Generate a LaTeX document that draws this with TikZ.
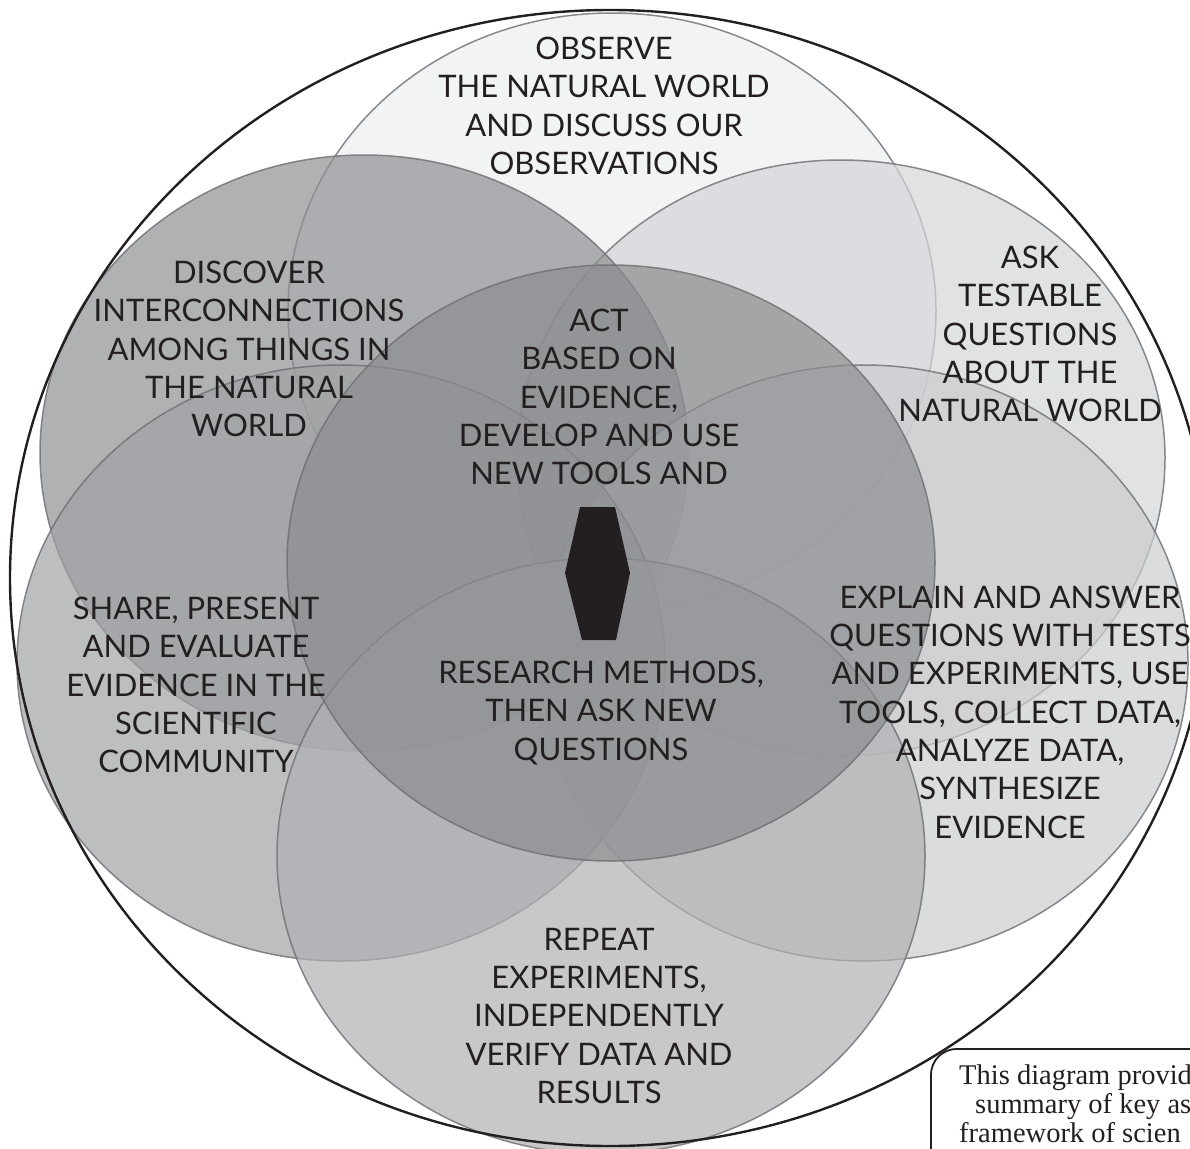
\documentclass[tikz,border=0pt]{standalone}
\usepackage{fontspec}
\setmainfont{Lato}
\newfontfamily\notefont{Liberation Serif}
\usetikzlibrary{shapes.geometric}

\definecolor{ink}{HTML}{231F20}
\definecolor{rim}{HTML}{6D6E71}
\definecolor{obsfill}{HTML}{EDEEF0}
\definecolor{askfill}{HTML}{D4D5D8}
\definecolor{expfill}{HTML}{CCCDD0}
\definecolor{repfill}{HTML}{B0B1B4}
\definecolor{shrfill}{HTML}{A1A2A5}
\definecolor{disfill}{HTML}{8F9093}
\definecolor{actfill}{HTML}{8C8D90}

\begin{document}
\begin{tikzpicture}[
    x=1pt, y=-1pt,
    petal/.style={ellipse, draw=rim, line width=1.5pt, minimum width=648pt,
                  minimum height=596pt, inner sep=0pt, fill opacity=0.7, draw opacity=0.8},
    lbl/.style={font=\fontsize{31}{38.3}\selectfont, align=center, text=ink},
    notetxt/.style={font=\notefont\fontsize{28.5}{31}\selectfont, text=ink, anchor=base west, inner sep=0pt}
]
    \useasboundingbox (0,0) rectangle (1190,1148);
    \clip (0,0) rectangle (1190,1148);

    % Petals
    \foreach \nm/\cx/\cy/\col in {obs/612/311/obsfill, ask/841/458/askfill,
                                 dis/364/453/disfill, exp/864/663/expfill,
                                 shr/341/663/shrfill, rep/601/856/repfill,
                                 act/611/563/actfill} {
        \node[petal, fill=\col] (\nm) at (\cx,\cy) {};
    }

    % Outer ring
    \node[ellipse, draw=ink, line width=2.4pt, minimum width=1200pt,
          minimum height=1136pt, inner sep=0pt] (ring) at (610,578) {};

    % Labels
    \node[lbl] (tobs) at (604,106) {OBSERVE\\THE NATURAL WORLD\\AND DISCUSS OUR\\OBSERVATIONS};
    \node[lbl] (tdis) at (249,349) {DISCOVER\\INTERCONNECTIONS\\AMONG THINGS IN\\THE NATURAL\\WORLD};
    \node[lbl] (task) at (1030,334) {ASK\\TESTABLE\\QUESTIONS\\ABOUT THE\\NATURAL WORLD};
    \node[lbl] (tact) at (599,397) {ACT\\BASED ON\\EVIDENCE,\\DEVELOP AND USE\\NEW TOOLS AND};
    \node[lbl] (tres) at (601,713) {RESEARCH METHODS,\\THEN ASK NEW\\QUESTIONS};
    \node[lbl] (tshr) at (196,685) {SHARE, PRESENT\\AND EVALUATE\\EVIDENCE IN THE\\SCIENTIFIC\\COMMUNITY};
    \node[lbl] (texp) at (1010,712) {EXPLAIN AND ANSWER\\QUESTIONS WITH TESTS\\AND EXPERIMENTS, USE\\TOOLS, COLLECT DATA,\\ANALYZE DATA,\\SYNTHESIZE\\EVIDENCE};
    \node[lbl] (trep) at (599,1016) {REPEAT\\EXPERIMENTS,\\INDEPENDENTLY\\VERIFY DATA AND\\RESULTS};

    % Centre mark
    \fill[ink] (580,507) -- (615,507) -- (630,573) -- (616,640) -- (582,640) -- (565,573) -- cycle;

    % Note box (runs off the page)
    \node[draw=ink, fill=white, line width=1.8pt, rounded corners=26pt, anchor=north west,
          minimum width=400pt, minimum height=200pt] (note) at (930,1048) {};
    \node[notetxt] (n1) at (959,1084) {This diagram provid};
    \node[notetxt] (n2) at (975,1113) {summary of key as};
    \node[notetxt] (n3) at (959,1142) {framework of scien};
\end{tikzpicture}
\end{document}
